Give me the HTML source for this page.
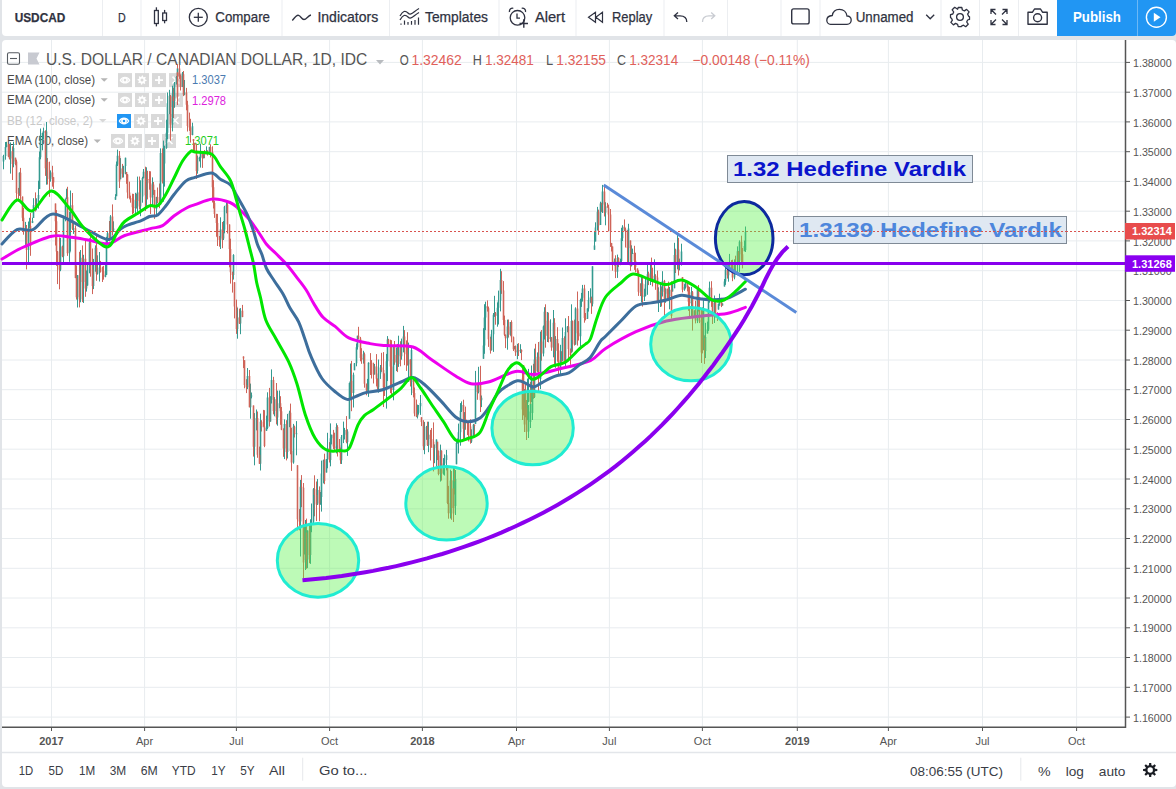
<!DOCTYPE html>
<html><head><meta charset="utf-8">
<style>
*{margin:0;padding:0;box-sizing:border-box}
html,body{width:1176px;height:789px;overflow:hidden;background:#e1e4e8;font-family:"Liberation Sans",sans-serif;color:#333}
.tb{position:absolute;left:2px;top:0;width:1174px;height:36px;background:#fff;border-radius:0 0 4px 4px}
.sep{position:absolute;top:0;width:1px;height:36px;background:#eceef0}
.t{position:absolute;white-space:nowrap;line-height:1}
.panel{position:absolute;left:2px;top:40px;width:1174px;height:747px;background:#fff;border-radius:4px}
svg{position:absolute;left:0;top:0}
.pub{position:absolute;left:1057px;top:0;width:119px;height:36px;background:#2196f3;border-radius:0 0 4px 0}
</style></head><body>
<div class="tb"></div>
<div class="panel"></div>
<div class="pub"></div>
<svg width="1176" height="789" viewBox="0 0 1176 789">
 <path d="M2 62.4H1125M2 92.2H1125M2 121.9H1125M2 151.7H1125M2 181.4H1125M2 211.2H1125M2 240.9H1125M2 270.7H1125M2 300.5H1125M2 330.2H1125M2 360.0H1125M2 389.7H1125M2 419.5H1125M2 449.2H1125M2 479.0H1125M2 508.8H1125M2 538.5H1125M2 568.3H1125M2 598.0H1125M2 627.8H1125M2 657.5H1125M2 687.3H1125M2 717.1H1125M51.5 40V727M144.6 40V727M236.4 40V727M329.6 40V727M422.4 40V727M516.5 40V727M609.4 40V727M702.4 40V727M797.3 40V727M888.4 40V727M982.5 40V727M1076.6 40V727" stroke="#e8ecef" stroke-width="1" fill="none"/>
 <line x1="2" y1="752.5" x2="1176" y2="752.5" stroke="#e3e6ea" stroke-width="1.5"/>

 <!-- legend -->
 <g fill="none" stroke="#555a60" stroke-width="1.1">
  <rect x="7.5" y="52.7" width="12" height="11.6" rx="1.5"/><line x1="10" y1="58.5" x2="17" y2="58.5"/>
 </g>
 <path d="M28,52.5 H39.5 L36.5,58.5 L39.5,64.5 H28Z" fill="#c8cad1"/>
 <text x="46" y="64.8" font-family="Liberation Sans" font-size="16" fill="#555" textLength="321.3" lengthAdjust="spacingAndGlyphs">U.S. DOLLAR / CANADIAN DOLLAR, 1D, IDC</text>
 <path d="M376,60 L384,60 L380,64.5Z" fill="#b8bbbf"/>
 <g font-family="Liberation Sans" font-size="14.5">
  <text x="399.8" y="64.8" fill="#555" textLength="9" lengthAdjust="spacingAndGlyphs">O</text>
  <text x="411.4" y="64.8" fill="#e0605a" textLength="50.4" lengthAdjust="spacingAndGlyphs">1.32462</text>
  <text x="472.7" y="64.8" fill="#555" textLength="9.1" lengthAdjust="spacingAndGlyphs">H</text>
  <text x="484.9" y="64.8" fill="#e0605a" textLength="49" lengthAdjust="spacingAndGlyphs">1.32481</text>
  <text x="546.1" y="64.8" fill="#555" textLength="7.2" lengthAdjust="spacingAndGlyphs">L</text>
  <text x="556.3" y="64.8" fill="#e0605a" textLength="49.6" lengthAdjust="spacingAndGlyphs">1.32155</text>
  <text x="616.9" y="64.8" fill="#555" textLength="9" lengthAdjust="spacingAndGlyphs">C</text>
  <text x="629.2" y="64.8" fill="#e0605a" textLength="49" lengthAdjust="spacingAndGlyphs">1.32314</text>
  <text x="692.4" y="64.8" fill="#e0605a" textLength="117.4" lengthAdjust="spacingAndGlyphs">−0.00148 (−0.11%)</text>
 </g>
 <g font-family="Liberation Sans" font-size="12.8">
  <text x="7" y="84.2" fill="#4a4a4a" textLength="88" lengthAdjust="spacingAndGlyphs">EMA (100, close)</text>
  <text x="7" y="104.3" fill="#4a4a4a" textLength="88" lengthAdjust="spacingAndGlyphs">EMA (200, close)</text>
  <text x="7" y="125" fill="#c9c9c9" textLength="86" lengthAdjust="spacingAndGlyphs">BB (12, close, 2)</text>
  <text x="7" y="145.4" fill="#4a4a4a" textLength="81" lengthAdjust="spacingAndGlyphs">EMA (50, close)</text>
  <text x="192" y="83.9" fill="#4a7ab0" textLength="34" lengthAdjust="spacingAndGlyphs">1.3037</text>
  <text x="192" y="104.6" fill="#dd22dd" textLength="34" lengthAdjust="spacingAndGlyphs">1.2978</text>
  <text x="185" y="145.4" fill="#22cc22" textLength="34" lengthAdjust="spacingAndGlyphs">1.3071</text>
 </g>
 <g fill="#b5b5b5">
  <path d="M100.6,78.3 H107.8 L104.2,81.8Z"/><path d="M100.6,98.3 H107.8 L104.2,101.8Z"/><path d="M99,119 H106.5 L102.8,122.5Z" fill="#d8d8d8"/><path d="M93.7,139.4 H100.9 L97.3,142.9Z"/>
 </g>
 <g fill="#d9d9d9">
  <rect x="118" y="73.1" width="14" height="14"/><rect x="135" y="73.1" width="14" height="14"/><rect x="152" y="73.1" width="14" height="14"/><rect x="169" y="73.1" width="14" height="14"/>
  <rect x="118" y="93" width="14" height="14"/><rect x="135" y="93" width="14" height="14"/><rect x="152" y="93" width="14" height="14"/><rect x="169" y="93" width="14" height="14"/>
  <rect x="117" y="114" width="14" height="14" fill="#2196f3"/><rect x="134" y="114" width="14" height="14"/><rect x="151" y="114" width="14" height="14"/><rect x="168" y="114" width="14" height="14"/>
  <rect x="111" y="134" width="14" height="14"/><rect x="128" y="134" width="14" height="14"/><rect x="145" y="134" width="14" height="14"/><rect x="162" y="134" width="14" height="14"/>
 </g>
 <g fill="none" stroke="#fff" stroke-width="1.5">
  <g id="eye"><path d="M120.3,80.1 C122.5,76.3 127.5,76.3 129.7,80.1 C127.5,83.9 122.5,83.9 120.3,80.1Z" stroke-width="1.2"/><circle cx="125" cy="80.1" r="2.1" stroke-width="1.6"/></g>
  <g transform="translate(0,19.9)"><path d="M120.3,80.1 C122.5,76.3 127.5,76.3 129.7,80.1 C127.5,83.9 122.5,83.9 120.3,80.1Z" stroke-width="1.2"/><circle cx="125" cy="80.1" r="2.1" stroke-width="1.6"/></g>
  <g transform="translate(-1,40.9)" stroke-width="1.7"><path d="M120.3,80.1 C122.5,76.3 127.5,76.3 129.7,80.1 C127.5,83.9 122.5,83.9 120.3,80.1Z" stroke-width="1.2"/><circle cx="125" cy="80.1" r="2.1" stroke-width="1.6"/></g>
  <g transform="translate(-7,60.9)"><path d="M120.3,80.1 C122.5,76.3 127.5,76.3 129.7,80.1 C127.5,83.9 122.5,83.9 120.3,80.1Z" stroke-width="1.2"/><circle cx="125" cy="80.1" r="2.1" stroke-width="1.6"/></g>
  <path d="M155,80.1 H163 M159,76.1 V84.1 M155,100 H163 M159,96 V104 M154,121 H162 M158,117 V125 M148,141 H156 M152,137 V145" stroke-width="1.8"/>
  <path d="M171.5,117 L178.5,124 M178.5,117 L171.5,124 M165.5,137 L172.5,144 M172.5,137 L165.5,144" stroke-width="1.6"/>
 </g>
 <g fill="#fff"><path d="M142.00,75.50 L142.90,75.59 L143.26,77.05 L143.83,77.36 L145.25,76.85 L145.82,77.54 L145.05,78.84 L145.24,79.46 L146.60,80.10 L146.51,81.00 L145.05,81.36 L144.74,81.93 L145.25,83.35 L144.56,83.92 L143.26,83.15 L142.64,83.34 L142.00,84.70 L141.10,84.61 L140.74,83.15 L140.17,82.84 L138.75,83.35 L138.18,82.66 L138.95,81.36 L138.76,80.74 L137.40,80.10 L137.49,79.20 L138.95,78.84 L139.26,78.27 L138.75,76.85 L139.44,76.28 L140.74,77.05 L141.36,76.86Z"/><path d="M142.00,95.40 L142.90,95.49 L143.26,96.95 L143.83,97.26 L145.25,96.75 L145.82,97.44 L145.05,98.74 L145.24,99.36 L146.60,100.00 L146.51,100.90 L145.05,101.26 L144.74,101.83 L145.25,103.25 L144.56,103.82 L143.26,103.05 L142.64,103.24 L142.00,104.60 L141.10,104.51 L140.74,103.05 L140.17,102.74 L138.75,103.25 L138.18,102.56 L138.95,101.26 L138.76,100.64 L137.40,100.00 L137.49,99.10 L138.95,98.74 L139.26,98.17 L138.75,96.75 L139.44,96.18 L140.74,96.95 L141.36,96.76Z"/><path d="M141.00,116.40 L141.90,116.49 L142.26,117.95 L142.83,118.26 L144.25,117.75 L144.82,118.44 L144.05,119.74 L144.24,120.36 L145.60,121.00 L145.51,121.90 L144.05,122.26 L143.74,122.83 L144.25,124.25 L143.56,124.82 L142.26,124.05 L141.64,124.24 L141.00,125.60 L140.10,125.51 L139.74,124.05 L139.17,123.74 L137.75,124.25 L137.18,123.56 L137.95,122.26 L137.76,121.64 L136.40,121.00 L136.49,120.10 L137.95,119.74 L138.26,119.17 L137.75,117.75 L138.44,117.18 L139.74,117.95 L140.36,117.76Z"/><path d="M135.00,136.40 L135.90,136.49 L136.26,137.95 L136.83,138.26 L138.25,137.75 L138.82,138.44 L138.05,139.74 L138.24,140.36 L139.60,141.00 L139.51,141.90 L138.05,142.26 L137.74,142.83 L138.25,144.25 L137.56,144.82 L136.26,144.05 L135.64,144.24 L135.00,145.60 L134.10,145.51 L133.74,144.05 L133.17,143.74 L131.75,144.25 L131.18,143.56 L131.95,142.26 L131.76,141.64 L130.40,141.00 L130.49,140.10 L131.95,139.74 L132.26,139.17 L131.75,137.75 L132.44,137.18 L133.74,137.95 L134.36,137.76Z"/></g>
 <g fill="#d9d9d9"><circle cx="142" cy="80.1" r="1.5"/><circle cx="142" cy="100" r="1.5"/><circle cx="141" cy="121" r="1.5"/><circle cx="135" cy="141" r="1.5"/></g>
 <path d="M172.5,76.6 L179.5,83.6 M179.5,76.6 L172.5,83.6 M172.5,96.5 L179.5,103.5 M179.5,96.5 L172.5,103.5" stroke="#fff" stroke-width="1.6"/>

 <g stroke-width="1" fill="none">
  <path d="M3.5 154.8V169.3M5.5 142.0V159.7M6.5 141.8V147.3M10.5 142.4V173.6M13.5 141.7V167.3M19.5 172.4V195.8M25.5 221.9V245.8M28.5 221.5V264.2M29.5 217.8V228.3M32.5 217.7V223.1M33.5 198.2V218.0M36.5 198.4V210.4M38.5 180.7V208.7M39.5 151.5V188.9M40.5 128.5V159.3M42.5 132.6V150.3M43.5 127.6V139.5M46.5 143.9V184.7M50.5 170.4V181.7M60.5 237.9V271.2M63.5 215.6V264.1M65.5 198.7V221.3M66.5 188.7V199.0M69.5 211.9V261.8M70.5 190.5V251.6M73.5 220.9V233.9M77.5 275.1V307.5M80.5 250.0V302.3M83.5 254.8V303.0M86.5 270.6V291.6M87.5 264.0V285.7M89.5 238.4V273.3M93.5 258.9V289.1M95.5 245.4V271.7M97.5 255.3V274.6M99.5 252.0V281.5M105.5 262.9V277.3M106.5 236.8V275.0M107.5 231.6V243.7M110.5 215.1V238.4M113.5 221.3V232.0M115.5 194.2V199.7M116.5 161.5V196.3M117.5 149.6V166.0M120.5 158.1V179.2M123.5 165.8V177.5M125.5 157.7V174.2M135.5 192.8V215.2M137.5 176.6V211.9M140.5 180.3V216.2M142.5 176.8V202.7M143.5 169.0V178.5M146.5 167.3V205.9M152.5 177.4V206.4M156.5 196.8V214.0M160.5 148.4V205.0M163.5 140.6V201.7M164.5 145.7V186.6M166.5 119.7V148.8M167.5 92.5V139.4M169.5 89.8V114.2M172.5 85.7V131.4M174.5 82.0V107.8M176.5 76.0V84.5M177.5 66.6V80.2M182.5 72.0V87.0M184.5 80.0V95.3M192.5 122.7V135.3M197.5 155.6V173.7M199.5 156.7V161.4M200.5 143.7V167.6M203.5 151.1V158.2M206.5 146.4V154.2M209.5 146.8V154.8M220.5 217.3V249.0M223.5 221.0V240.0M224.5 205.8V233.3M226.5 200.0V213.3M233.5 254.2V279.6M237.5 307.6V338.7M240.5 308.1V334.2M247.5 368.0V389.1M250.5 383.6V418.7M251.5 392.5V398.4M254.5 413.1V465.3M256.5 409.5V430.4M260.5 413.6V470.5M266.5 415.6V430.8M267.5 392.3V429.1M270.5 396.2V421.7M271.5 369.4V403.5M274.5 397.1V416.3M277.5 390.6V425.7M279.5 390.5V408.2M284.5 419.4V459.1M287.5 413.9V458.5M289.5 410.7V427.2M293.5 423.9V463.7M296.5 421.1V455.3M300.5 479.9V556.5M304.5 526.6V554.5M307.5 530.4V568.1M310.5 519.3V563.9M311.5 503.5V532.2M313.5 488.1V523.7M317.5 479.0V504.9M320.5 492.0V504.8M321.5 460.6V511.6M323.5 459.6V483.4M326.5 459.1V472.5M327.5 432.8V468.3M330.5 423.4V466.3M331.5 434.7V444.4M336.5 423.3V453.4M341.5 435.0V464.0M343.5 421.6V443.1M344.5 427.9V439.5M347.5 429.3V455.9M349.5 382.5V418.8M350.5 363.5V399.9M353.5 372.6V407.5M354.5 363.0V370.2M356.5 343.5V366.3M357.5 335.8V349.6M363.5 350.8V363.6M367.5 378.9V390.8M368.5 362.3V396.9M374.5 363.9V374.4M378.5 359.5V392.7M380.5 365.0V378.9M386.5 353.9V408.6M387.5 336.1V381.1M393.5 345.1V400.3M396.5 347.4V371.1M398.5 335.7V366.9M401.5 338.6V359.7M403.5 325.9V352.4M408.5 342.6V381.9M411.5 347.5V395.1M417.5 404.6V418.5M418.5 405.0V414.6M420.5 395.0V414.9M424.5 421.9V454.2M426.5 425.9V439.8M428.5 421.7V452.2M434.5 444.4V463.2M436.5 439.5V466.6M440.5 444.6V481.6M443.5 458.1V474.7M444.5 454.4V475.6M446.5 449.9V470.4M450.5 469.7V518.5M453.5 467.4V510.5M456.5 441.1V464.2M457.5 438.4V443.7M458.5 423.6V453.5M460.5 403.1V445.7M461.5 401.4V412.0M464.5 412.1V439.1M471.5 429.3V442.9M473.5 423.9V437.4M475.5 370.9V424.0M478.5 366.8V393.4M481.5 395.5V407.1M483.5 328.2V358.7M484.5 304.2V353.8M485.5 301.7V330.1M491.5 329.8V350.5M493.5 313.0V351.9M494.5 295.8V316.8M497.5 302.4V326.7M498.5 290.6V324.5M500.5 268.8V311.4M507.5 319.6V349.7M510.5 322.0V335.8M514.5 346.1V349.2M517.5 343.8V359.2M520.5 344.2V353.1M524.5 389.1V421.8M527.5 378.6V420.2M528.5 368.9V402.0M531.5 365.5V401.9M534.5 348.6V398.0M537.5 352.4V371.9M540.5 331.6V389.1M543.5 325.5V356.4M544.5 307.2V339.5M547.5 312.0V342.0M550.5 319.3V341.7M553.5 310.0V357.3M555.5 336.1V367.8M560.5 344.8V375.0M562.5 327.5V361.3M565.5 318.3V368.2M567.5 326.2V332.3M571.5 304.3V352.6M575.5 307.3V344.7M580.5 298.9V346.4M581.5 292.9V306.9M582.5 284.9V301.6M587.5 308.3V318.9M588.5 291.0V311.6M590.5 288.3V302.8M592.5 266.3V306.4M594.5 232.0V249.7M595.5 222.3V241.4M597.5 206.9V230.5M600.5 201.7V225.0M602.5 184.9V213.0M605.5 202.2V225.3M614.5 258.5V265.6M617.5 254.6V277.9M620.5 258.7V265.2M621.5 228.0V264.9M622.5 225.2V241.0M628.5 223.8V264.5M631.5 245.3V266.5M632.5 248.6V253.9M641.5 275.7V302.4M644.5 288.7V301.0M645.5 277.1V296.4M647.5 262.4V294.8M650.5 264.1V285.0M654.5 259.3V281.6M658.5 287.3V312.0M660.5 282.4V307.0M662.5 271.2V296.5M665.5 288.4V302.8M669.5 286.9V309.3M672.5 283.6V291.5M674.5 242.8V288.2M677.5 235.0V269.4M679.5 258.6V270.4M681.5 243.7V265.6M684.5 284.1V290.8M685.5 281.9V288.6M691.5 286.8V317.9M694.5 310.3V317.4M697.5 288.1V323.1M705.5 322.8V358.1M707.5 321.6V333.5M708.5 300.0V331.0M709.5 281.6V302.7M714.5 295.5V323.0M718.5 303.7V309.6M719.5 293.7V305.8M722.5 303.4V305.5M724.5 279.0V286.5M725.5 265.9V284.9M728.5 262.1V281.7M729.5 253.9V270.1M734.5 259.4V279.3M737.5 246.4V274.7M739.5 240.4V271.9M744.5 240.6V251.2M745.5 241.8V250.0M745.5 226.5V252M528.5 405.0V438.0M530.5 398.0V428.0M532.5 385.0V420.0M305.5 520.0V570.0M455.5 470.0V515.0M703.5 300.0V350.0M46.5 122.0V170.0" stroke="#349a90"/>
  <path d="M8.5 144.2V157.1M9.5 143.8V159.5M12.5 146.3V180.0M15.5 157.7V165.3M16.5 159.6V201.7M18.5 187.9V201.7M20.5 167.9V199.9M22.5 196.6V221.1M23.5 207.9V234.7M26.5 225.0V269.4M30.5 213.0V255.8M35.5 192.4V211.5M45.5 130.3V175.9M47.5 158.0V184.5M49.5 161.7V196.8M52.5 165.8V186.7M53.5 177.2V188.9M55.5 203.6V245.5M56.5 210.0V265.8M57.5 251.0V284.1M59.5 237.4V289.3M62.5 245.6V257.2M67.5 186.8V255.9M72.5 193.0V230.0M75.5 225.5V278.2M76.5 265.4V299.6M79.5 251.8V307.4M82.5 245.4V302.1M85.5 240.5V296.8M90.5 234.0V276.7M92.5 248.5V294.1M96.5 234.0V280.8M100.5 260.9V272.6M102.5 266.6V282.0M103.5 265.9V279.7M109.5 221.0V241.4M112.5 204.4V235.5M119.5 151.0V188.0M122.5 163.9V177.7M126.5 171.9V183.8M127.5 174.1V198.5M129.5 181.7V198.8M130.5 195.6V202.7M132.5 193.7V214.3M133.5 193.9V213.3M136.5 193.7V208.6M139.5 176.5V209.5M145.5 166.7V211.0M147.5 170.8V199.4M149.5 171.1V189.7M150.5 171.3V214.1M153.5 182.0V194.9M154.5 189.9V218.9M157.5 187.5V203.1M159.5 183.5V208.2M162.5 148.3V183.5M170.5 95.0V140.5M173.5 87.7V118.0M179.5 64.8V78.9M180.5 74.4V90.5M183.5 71.0V96.1M186.5 87.9V110.3M187.5 100.8V131.5M189.5 112.6V130.9M190.5 118.8V142.6M193.5 139.1V150.3M194.5 142.9V151.0M196.5 143.7V179.0M202.5 151.1V167.9M204.5 150.0V158.2M207.5 150.3V155.6M210.5 144.3V157.4M212.5 146.3V202.3M213.5 180.2V208.5M214.5 200.9V217.9M216.5 213.8V236.7M217.5 213.9V246.0M219.5 236.0V246.7M222.5 222.0V248.2M227.5 202.3V233.5M229.5 224.4V267.3M230.5 238.7V283.6M232.5 271.6V292.6M234.5 282.3V318.4M236.5 299.6V333.9M239.5 308.6V324.0M242.5 304.9V317.2M243.5 356.4V368.1M244.5 360.3V388.3M246.5 379.2V393.1M249.5 370.0V407.3M253.5 405.5V456.6M257.5 411.5V457.8M259.5 446.6V464.0M261.5 420.2V431.5M263.5 409.9V426.6M264.5 410.2V447.2M269.5 387.9V426.5M273.5 376.8V414.4M276.5 383.0V424.4M280.5 396.2V424.8M281.5 407.0V430.2M283.5 428.3V456.8M286.5 420.2V460.4M290.5 403.6V454.3M291.5 427.8V470.9M294.5 425.6V437.5M297.5 465.2V530.4M299.5 509.1V530.3M301.5 475.1V507.2M303.5 483.0V554.1M306.5 518.6V568.8M309.5 524.4V563.2M314.5 475.3V516.3M316.5 481.5V521.1M319.5 486.4V521.3M324.5 453.7V484.2M329.5 442.1V462.5M333.5 429.9V449.0M334.5 432.7V450.7M337.5 425.2V456.5M339.5 439.0V452.8M340.5 447.6V463.9M346.5 416.1V443.3M351.5 360.9V411.2M358.5 326.8V339.3M360.5 336.9V361.3M361.5 348.2V363.8M364.5 352.5V387.7M366.5 383.6V395.3M370.5 353.1V375.0M371.5 360.1V378.5M373.5 362.7V383.5M376.5 354.1V386.3M377.5 378.5V389.5M381.5 352.8V371.9M383.5 352.1V407.0M384.5 373.3V396.0M388.5 338.8V346.4M390.5 339.7V393.1M391.5 340.2V394.6M394.5 341.0V364.8M397.5 343.9V372.1M400.5 341.2V366.3M404.5 330.1V365.2M406.5 340.4V370.9M407.5 332.2V365.6M410.5 359.1V386.5M413.5 377.2V397.4M414.5 387.5V416.3M416.5 399.5V417.2M421.5 417.2V426.1M423.5 420.2V450.1M427.5 421.7V446.0M430.5 429.9V460.5M431.5 428.0V447.8M433.5 422.4V471.4M437.5 441.8V460.1M438.5 450.4V475.3M441.5 450.3V480.6M447.5 467.0V504.1M448.5 485.9V518.7M451.5 471.0V519.8M454.5 466.4V494.5M463.5 399.7V439.8M465.5 406.6V429.8M467.5 422.2V435.1M468.5 420.6V441.4M470.5 419.3V443.7M474.5 424.5V435.9M477.5 383.3V399.8M480.5 365.8V412.0M487.5 300.4V311.6M488.5 306.7V346.9M490.5 336.7V353.6M495.5 312.0V324.7M501.5 271.2V293.9M503.5 281.1V325.2M504.5 315.6V336.1M505.5 334.5V348.1M508.5 319.5V337.5M511.5 320.3V342.3M513.5 336.5V351.0M515.5 345.5V355.9M518.5 343.1V356.0M521.5 349.3V360.1M523.5 365.0V415.4M525.5 383.0V417.3M530.5 382.0V405.7M533.5 363.8V398.8M535.5 343.8V373.6M538.5 342.0V391.0M541.5 330.0V360.7M545.5 304.3V347.7M548.5 312.6V342.4M551.5 337.1V350.8M554.5 318.2V367.1M557.5 327.2V361.7M558.5 343.3V374.2M561.5 351.2V364.8M564.5 336.3V363.5M568.5 316.0V361.4M570.5 348.5V364.8M572.5 320.5V351.7M574.5 319.6V345.6M577.5 291.5V345.6M578.5 321.1V340.5M584.5 284.8V322.7M585.5 313.0V320.4M591.5 296.6V313.9M598.5 209.6V234.9M601.5 202.7V211.9M604.5 186.6V216.5M607.5 202.9V207.6M608.5 204.6V231.4M610.5 209.0V246.9M611.5 242.9V251.5M612.5 246.5V270.7M615.5 255.3V278.1M618.5 257.3V267.1M624.5 219.4V231.2M625.5 227.7V247.5M627.5 230.1V264.2M630.5 240.5V270.8M634.5 245.8V269.9M635.5 252.7V272.3M637.5 268.4V276.1M638.5 270.3V295.9M640.5 283.3V296.1M642.5 275.8V306.6M648.5 271.6V285.1M651.5 257.6V282.0M652.5 267.7V286.4M655.5 274.2V289.8M657.5 270.6V303.1M661.5 286.4V306.5M664.5 279.9V315.5M667.5 288.7V299.9M668.5 281.6V301.1M671.5 281.3V318.6M675.5 248.7V273.0M678.5 237.9V275.5M682.5 277.0V292.4M687.5 282.3V291.4M688.5 286.2V310.8M689.5 287.0V316.4M692.5 291.0V330.6M695.5 300.7V323.4M698.5 285.1V311.5M699.5 297.2V323.1M701.5 312.2V332.0M702.5 307.3V353.4M704.5 335.3V363.9M711.5 281.2V306.9M712.5 299.6V324.0M715.5 298.6V317.5M717.5 312.3V321.0M721.5 297.9V307.1M727.5 268.4V278.6M731.5 260.1V270.0M732.5 259.7V281.2M735.5 255.7V273.2M738.5 251.0V263.1M741.5 235.7V263.5M742.5 248.0V268.4M522.5 368.0V420.0M524.5 395.0V432.0M526.5 400.0V440.0M303.5 500.0V578.0M453.5 480.0V522.0M701.5 310.0V363.0M177.5 64.0V105.0" stroke="#cf6459"/>
  <path d="M3.5 156.0V161.5M5.5 147.1V156.0M6.5 144.7V147.1M10.5 151.3V158.4M13.5 147.9V164.0M19.5 172.8V193.5M25.5 228.9V232.1M28.5 228.0V250.1M29.5 226.0V228.0M32.5 221.0V223.1M33.5 205.3V218.0M36.5 198.8V206.3M38.5 195.0V198.8M39.5 157.3V188.9M40.5 135.3V157.3M42.5 133.1V135.3M43.5 131.1V133.1M46.5 161.9V168.3M50.5 172.4V178.9M60.5 246.4V269.7M63.5 218.6V256.3M65.5 198.7V218.6M66.5 197.3V198.7M69.5 220.0V253.2M70.5 205.3V220.0M73.5 228.2V229.2M77.5 275.3V297.2M80.5 257.7V299.5M83.5 258.7V282.0M86.5 285.5V288.4M87.5 269.7V285.5M89.5 242.5V269.7M93.5 261.8V286.1M95.5 247.7V261.8M97.5 268.6V273.8M99.5 267.6V268.6M105.5 274.8V276.8M106.5 238.4V274.8M107.5 233.3V238.4M110.5 216.6V238.4M113.5 228.5V230.3M115.5 196.9V199.7M116.5 164.6V196.3M117.5 155.8V164.6M120.5 168.4V179.2M123.5 165.9V173.8M125.5 157.8V165.9M135.5 199.8V208.1M137.5 192.6V201.0M140.5 196.6V206.5M142.5 177.9V196.6M143.5 171.8V177.9M146.5 179.1V195.3M152.5 184.6V197.4M156.5 196.9V208.7M160.5 153.1V204.6M163.5 163.6V181.6M164.5 147.9V163.6M166.5 132.7V147.9M167.5 103.2V132.7M169.5 95.8V103.2M172.5 96.4V124.6M174.5 83.1V101.0M176.5 76.9V83.1M177.5 68.5V76.9M182.5 74.3V87.0M184.5 92.5V94.6M192.5 126.2V135.0M197.5 157.7V171.0M199.5 157.6V158.6M200.5 152.7V157.6M203.5 153.7V158.2M206.5 150.8V154.2M209.5 146.9V152.2M220.5 229.6V239.9M223.5 229.6V238.4M224.5 206.8V229.6M226.5 204.7V206.8M233.5 255.1V275.1M237.5 317.5V329.0M240.5 310.8V323.4M247.5 376.1V387.2M250.5 396.2V407.3M251.5 395.4V396.4M254.5 421.9V446.7M256.5 418.1V421.9M260.5 421.8V463.8M266.5 428.0V430.8M267.5 397.6V428.0M270.5 399.8V421.4M271.5 379.9V399.8M274.5 399.3V411.0M277.5 407.8V417.5M279.5 403.2V407.8M284.5 424.0V448.5M287.5 424.3V451.9M289.5 412.8V424.3M293.5 426.7V462.6M296.5 433.3V434.3M300.5 486.8V521.5M304.5 532.4V547.8M307.5 530.5V559.6M310.5 524.2V555.1M311.5 521.7V524.2M313.5 489.3V521.7M317.5 490.0V504.5M320.5 497.0V503.2M321.5 473.5V497.0M323.5 460.3V473.5M326.5 459.1V472.5M327.5 448.2V459.1M330.5 438.2V460.1M331.5 434.8V438.2M336.5 427.0V448.5M341.5 437.1V460.3M343.5 434.7V437.1M344.5 430.1V434.7M347.5 431.4V442.1M349.5 382.9V418.8M350.5 380.9V382.9M353.5 374.8V393.0M354.5 363.2V370.2M356.5 347.2V363.2M357.5 335.8V347.2M363.5 354.2V359.6M367.5 389.5V390.6M368.5 362.7V389.5M374.5 366.5V374.4M378.5 373.6V387.4M380.5 367.6V373.6M386.5 361.3V389.6M387.5 339.6V361.3M393.5 346.3V389.9M396.5 355.1V362.5M398.5 345.3V363.9M401.5 342.0V356.3M403.5 336.6V342.0M408.5 359.5V364.4M411.5 350.0V382.1M417.5 412.7V416.4M418.5 406.2V412.7M420.5 402.9V406.2M424.5 434.6V446.3M426.5 426.8V434.6M428.5 434.8V445.2M434.5 447.2V448.2M436.5 439.5V447.2M440.5 450.8V474.0M443.5 463.5V473.6M444.5 460.1V463.5M446.5 455.3V460.1M450.5 480.6V513.3M453.5 480.2V508.1M456.5 442.9V464.2M457.5 442.1V443.1M458.5 432.3V442.1M460.5 410.7V432.3M461.5 405.0V410.7M464.5 418.9V428.7M471.5 430.4V441.5M473.5 424.8V430.4M475.5 383.7V424.0M478.5 384.7V391.9M481.5 397.8V400.3M483.5 345.4V358.7M484.5 317.5V345.4M485.5 306.3V317.5M491.5 334.2V350.3M493.5 314.8V334.2M494.5 313.2V314.8M497.5 307.7V315.8M498.5 300.6V307.7M500.5 279.9V300.6M507.5 326.4V338.2M510.5 322.1V334.8M514.5 346.2V349.2M517.5 350.6V352.3M520.5 350.0V351.0M524.5 389.2V408.4M527.5 401.6V403.5M528.5 389.7V401.6M531.5 376.0V401.8M534.5 359.6V396.9M537.5 356.7V371.5M540.5 341.4V379.0M543.5 326.6V353.6M544.5 311.7V326.6M547.5 320.7V335.7M550.5 337.2V339.1M553.5 322.7V347.5M555.5 339.1V351.0M560.5 360.5V368.5M562.5 337.9V360.6M565.5 332.0V363.3M567.5 326.4V332.0M571.5 321.1V352.6M575.5 308.5V344.4M580.5 300.0V336.2M581.5 297.7V300.0M582.5 288.4V297.7M587.5 308.4V318.7M588.5 300.0V308.4M590.5 297.6V300.0M592.5 266.3V303.7M594.5 245.5V249.7M595.5 227.4V241.4M597.5 211.7V227.4M600.5 203.5V225.0M602.5 191.4V204.5M605.5 206.5V212.8M614.5 260.8V264.7M617.5 258.0V271.8M620.5 261.1V263.3M621.5 238.2V261.1M622.5 226.7V238.2M628.5 228.6V248.1M631.5 253.7V265.7M632.5 253.0V254.0M641.5 283.6V292.1M644.5 295.8V296.8M645.5 284.2V295.8M647.5 274.3V284.2M650.5 273.3V279.6M654.5 275.8V281.3M658.5 294.5V302.3M660.5 291.4V294.5M662.5 281.0V291.7M665.5 288.8V299.7M669.5 289.7V296.1M672.5 288.6V291.5M674.5 254.9V288.2M677.5 249.5V265.1M679.5 261.8V263.4M681.5 251.6V261.8M684.5 287.0V289.8M685.5 283.1V287.0M691.5 292.3V303.2M694.5 310.4V317.4M697.5 289.4V320.6M705.5 337.1V350.9M707.5 329.6V333.5M708.5 301.3V329.6M709.5 287.7V301.3M714.5 302.7V314.2M718.5 303.8V309.6M719.5 301.5V303.8M722.5 303.5V305.5M724.5 281.5V286.5M725.5 269.7V281.5M728.5 266.9V275.2M729.5 262.0V266.9M734.5 261.9V277.5M737.5 251.2V265.1M739.5 241.8V260.7M744.5 246.1V251.2M745.5 243.0V246.1M745.5 232V250M528.5 411.6V431.4M530.5 404.0V422.0M532.5 392.0V413.0M305.5 530.0V560.0M455.5 479.0V506.0M703.5 310.0V340.0M46.5 131.6V160.4" stroke="#349a90" stroke-width="1.6"/>
  <path d="M8.5 144.7V156.4M9.5 156.4V158.4M12.5 151.3V164.0M15.5 157.7V161.5M16.5 161.5V192.9M18.5 192.9V193.9M20.5 172.8V196.0M22.5 196.6V217.8M23.5 217.8V232.1M26.5 228.9V250.1M30.5 226.0V246.1M35.5 205.3V206.3M45.5 131.1V168.3M47.5 161.9V177.8M49.5 177.8V178.9M52.5 172.4V177.2M53.5 177.2V182.6M55.5 203.6V221.2M56.5 221.2V251.6M57.5 251.6V260.5M59.5 260.5V269.7M62.5 246.4V256.3M67.5 197.3V253.2M72.5 205.3V228.7M75.5 228.2V278.0M76.5 278.0V297.2M79.5 275.3V299.5M82.5 257.7V282.0M85.5 258.7V288.4M90.5 242.5V269.2M92.5 269.2V286.1M96.5 247.7V273.8M100.5 267.6V270.8M102.5 270.8V271.8M103.5 271.3V276.8M109.5 233.3V238.4M112.5 216.6V230.3M119.5 155.8V181.4M122.5 168.4V173.8M126.5 171.9V174.6M127.5 174.6V192.4M129.5 192.4V198.0M130.5 198.0V199.9M132.5 199.9V207.2M133.5 207.2V208.2M136.5 199.8V201.0M139.5 192.6V206.5M145.5 171.8V195.3M147.5 179.1V180.1M149.5 179.3V183.3M150.5 183.3V197.4M153.5 184.6V190.0M154.5 190.0V208.7M157.5 196.9V202.4M159.5 202.4V204.6M162.5 153.1V181.6M170.5 95.8V124.6M173.5 96.4V101.0M179.5 68.5V75.9M180.5 75.9V87.0M183.5 74.3V94.6M186.5 92.5V104.8M187.5 104.8V125.9M189.5 125.9V127.5M190.5 127.5V135.0M193.5 139.1V141.0M194.5 142.9V150.5M196.5 150.5V171.0M202.5 152.7V158.2M204.5 153.7V154.7M207.5 150.8V152.2M210.5 146.9V151.7M212.5 151.7V187.2M213.5 187.2V202.9M214.5 202.9V214.1M216.5 214.1V223.0M217.5 223.0V237.3M219.5 237.3V239.9M222.5 229.6V238.4M227.5 204.7V224.4M229.5 224.4V249.1M230.5 249.1V272.3M232.5 272.3V275.1M234.5 282.3V306.4M236.5 306.4V329.0M239.5 317.5V323.4M242.5 310.8V317.1M243.5 356.4V358.6M244.5 360.3V385.1M246.5 385.1V387.2M249.5 376.1V407.3M253.5 405.5V446.7M257.5 418.1V454.7M259.5 454.7V463.8M261.5 421.8V426.3M263.5 426.3V427.3M264.5 426.6V445.9M269.5 397.6V421.4M273.5 379.9V411.0M276.5 399.3V417.5M280.5 403.2V411.3M281.5 411.3V429.8M283.5 429.8V448.5M286.5 424.0V451.9M290.5 412.8V451.1M291.5 451.1V462.6M294.5 426.7V433.7M297.5 465.2V519.2M299.5 519.2V521.5M301.5 486.8V487.8M303.5 487.7V547.8M306.5 532.4V559.6M309.5 530.5V555.1M314.5 489.3V494.9M316.5 494.9V504.5M319.5 490.0V503.2M324.5 460.3V481.0M329.5 448.2V460.1M333.5 434.8V446.4M334.5 446.4V448.5M337.5 427.0V445.2M339.5 445.2V450.8M340.5 450.8V460.3M346.5 430.1V442.1M351.5 380.9V393.0M358.5 335.8V338.5M360.5 338.5V358.1M361.5 358.1V359.6M364.5 354.2V383.7M366.5 383.7V390.6M370.5 362.7V363.7M371.5 362.7V365.2M373.5 365.2V374.4M376.5 366.5V378.7M377.5 378.7V387.4M381.5 367.6V370.1M383.5 370.1V387.6M384.5 387.6V389.6M388.5 339.6V346.1M390.5 346.1V366.4M391.5 366.4V389.9M394.5 346.3V362.5M397.5 355.1V363.9M400.5 345.3V356.3M404.5 336.6V343.7M406.5 343.7V354.2M407.5 354.2V364.4M410.5 359.5V382.1M413.5 377.2V393.0M414.5 393.0V413.6M416.5 413.6V416.4M421.5 417.2V422.1M423.5 422.1V446.3M427.5 426.8V445.2M430.5 434.8V439.1M431.5 439.1V441.7M433.5 441.7V448.1M437.5 441.8V455.5M438.5 455.5V474.0M441.5 450.8V473.6M447.5 467.0V503.0M448.5 503.0V513.3M451.5 480.6V508.1M454.5 480.2V481.2M463.5 405.0V428.7M465.5 418.9V422.4M467.5 422.4V423.8M468.5 423.8V426.6M470.5 426.6V441.5M474.5 424.8V425.8M477.5 383.7V391.9M480.5 384.7V400.3M487.5 306.3V308.2M488.5 308.2V339.2M490.5 339.2V350.3M495.5 313.2V315.8M501.5 279.9V290.5M503.5 290.5V320.1M504.5 320.1V334.7M505.5 334.7V338.2M508.5 326.4V334.8M511.5 322.1V337.3M513.5 337.3V349.2M515.5 346.2V352.3M518.5 350.6V351.6M521.5 350.0V351.7M523.5 365.0V408.4M525.5 389.2V403.5M530.5 389.7V401.8M533.5 376.0V396.9M535.5 359.6V371.5M538.5 356.7V379.0M541.5 341.4V353.6M545.5 311.7V335.7M548.5 320.7V339.1M551.5 337.2V347.5M554.5 322.7V351.0M557.5 339.1V350.4M558.5 350.4V368.5M561.5 360.5V361.5M564.5 337.9V363.3M568.5 326.4V349.1M570.5 349.1V354.9M572.5 321.1V340.1M574.5 340.1V344.4M577.5 308.5V333.3M578.5 333.3V336.2M584.5 288.4V318.1M585.5 318.1V319.1M591.5 297.6V303.7M598.5 211.7V225.6M601.5 203.5V204.5M604.5 191.4V212.8M607.5 206.5V207.5M608.5 207.4V214.4M610.5 214.4V230.9M611.5 242.9V246.6M612.5 246.6V264.7M615.5 260.8V271.8M618.5 258.0V263.3M624.5 226.7V229.6M625.5 229.6V231.0M627.5 231.0V248.1M630.5 240.5V265.7M634.5 253.0V260.7M635.5 260.7V266.9M637.5 268.4V272.2M638.5 272.2V291.7M640.5 291.7V292.7M642.5 283.6V296.5M648.5 274.3V279.6M651.5 273.3V280.1M652.5 280.1V281.3M655.5 275.8V277.5M657.5 277.5V302.3M661.5 291.4V292.4M664.5 281.0V299.7M667.5 288.8V293.7M668.5 293.7V296.1M671.5 289.7V315.9M675.5 254.9V265.1M678.5 249.5V263.4M682.5 277.0V289.8M687.5 283.1V287.7M688.5 287.7V301.8M689.5 301.8V303.2M692.5 292.3V317.4M695.5 310.4V320.6M698.5 289.4V310.0M699.5 310.0V321.4M701.5 321.4V325.5M702.5 325.5V337.9M704.5 337.9V350.9M711.5 287.7V299.6M712.5 299.6V314.2M715.5 302.7V312.8M717.5 312.8V318.1M721.5 301.5V305.7M727.5 269.7V275.2M731.5 262.0V265.7M732.5 265.7V277.5M735.5 261.9V265.1M738.5 251.2V260.7M741.5 241.8V254.3M742.5 254.3V263.1M522.5 378.4V409.6M524.5 402.4V424.6M526.5 408.0V432.0M303.5 515.6V562.4M453.5 488.4V513.6M701.5 320.6V352.4M177.5 72.2V96.8" stroke="#cf6459" stroke-width="1.6"/>
 </g>
 <g fill="none" stroke-width="3" stroke-linejoin="round" stroke-linecap="round">
  <path d="M2.0,259.0 C5.2,257.2 13.2,251.8 21.5,248.0 C29.8,244.2 43.5,238.0 51.7,236.2 C60.0,234.4 65.0,236.7 71.0,237.3 C77.0,237.9 81.8,238.9 88.0,240.0 C94.2,241.1 102.1,244.4 108.2,243.7 C114.3,242.9 117.8,238.0 124.7,235.5 C131.6,233.0 143.1,230.6 149.4,228.9 C155.7,227.2 158.5,227.8 162.6,225.6 C166.7,223.4 170.1,218.7 174.2,215.7 C178.3,212.7 183.9,209.3 187.4,207.5 C190.9,205.7 190.8,206.1 195.0,204.7 C199.2,203.3 207.0,199.4 212.8,199.0 C218.6,198.6 225.6,200.8 230.0,202.5 C234.4,204.2 236.0,206.5 239.1,209.1 C242.2,211.7 245.2,214.7 248.3,218.3 C251.4,221.9 254.4,226.2 257.4,230.5 C260.4,234.8 263.4,240.4 266.5,244.2 C269.6,248.0 272.4,250.0 275.7,253.3 C279.0,256.6 282.7,259.9 286.3,264.0 C289.9,268.1 293.8,273.5 297.1,277.8 C300.4,282.1 303.4,285.7 306.2,290.0 C309.0,294.3 311.0,299.1 313.8,303.6 C316.6,308.2 319.4,313.5 323.0,317.3 C326.6,321.1 330.8,323.0 335.1,326.4 C339.4,329.8 343.0,334.9 348.8,337.8 C354.6,340.7 363.9,342.3 370.0,343.6 C376.1,344.9 378.4,345.0 385.6,345.6 C392.8,346.2 405.4,344.7 413.0,347.0 C420.6,349.3 423.9,354.5 431.0,359.3 C438.1,364.1 448.9,371.9 455.6,376.0 C462.3,380.1 465.6,382.7 471.0,383.7 C476.4,384.7 480.9,384.0 488.3,382.0 C495.7,380.0 508.0,372.8 515.6,371.5 C523.2,370.2 526.4,375.0 534.0,374.5 C541.6,374.0 551.6,370.8 561.0,368.5 C570.4,366.2 583.0,364.0 590.4,360.6 C597.8,357.2 598.0,353.2 605.6,348.4 C613.2,343.6 625.9,336.3 636.0,331.7 C646.1,327.1 656.3,323.5 666.4,321.0 C676.5,318.5 686.7,317.8 696.8,316.5 C706.9,315.2 718.9,315.0 727.0,313.5 C735.1,312.0 742.3,308.4 745.4,307.4" stroke="#ee00ee"/>
  <path d="M2.0,244.0 C4.5,241.6 11.8,232.0 17.0,229.6 C22.2,227.2 27.0,232.2 33.0,229.6 C39.0,227.0 44.5,214.3 53.0,214.0 C61.5,213.7 74.8,223.7 84.0,228.0 C93.2,232.3 102.2,239.3 108.2,239.6 C114.2,239.9 116.8,232.0 119.8,229.7 C122.8,227.4 122.8,227.1 126.4,225.6 C130.0,224.1 137.4,222.2 141.2,220.7 C145.0,219.2 146.7,217.5 149.4,216.5 C152.2,215.5 154.9,216.7 157.7,214.9 C160.4,213.1 163.2,209.2 165.9,205.8 C168.7,202.4 170.9,198.4 174.2,194.3 C177.5,190.2 182.2,183.9 185.7,181.1 C189.2,178.3 190.7,178.8 195.0,177.4 C199.3,176.1 207.3,172.7 211.5,173.0 C215.7,173.3 217.2,177.3 220.4,179.3 C223.6,181.3 227.8,182.2 230.5,185.0 C233.2,187.8 234.1,191.0 236.8,195.8 C239.5,200.6 244.1,208.2 246.8,213.7 C249.5,219.2 251.0,223.9 252.8,229.0 C254.6,234.1 255.9,239.9 257.4,244.2 C258.9,248.5 260.5,250.8 262.0,254.8 C263.5,258.9 264.5,264.2 266.5,268.5 C268.5,272.8 271.4,276.4 274.2,280.7 C277.0,285.0 280.7,289.8 283.3,294.4 C285.9,298.9 287.4,303.4 290.0,308.0 C292.6,312.6 296.2,316.7 298.6,321.8 C301.1,326.9 302.6,332.8 304.7,338.5 C306.8,344.2 308.0,349.5 310.9,356.2 C313.8,362.9 317.8,372.5 322.0,378.5 C326.2,384.5 331.8,388.9 336.0,392.4 C340.2,395.9 343.9,398.7 347.1,399.4 C350.4,400.1 352.2,397.8 355.5,396.6 C358.8,395.4 362.1,393.5 366.6,392.4 C371.1,391.3 376.9,391.5 382.6,389.8 C388.3,388.1 395.9,384.0 401.0,382.0 C406.1,380.0 409.0,377.1 413.0,377.6 C417.0,378.1 420.4,381.2 425.0,385.0 C429.6,388.8 435.3,395.1 440.4,400.4 C445.5,405.7 451.0,413.4 455.6,417.0 C460.2,420.6 463.7,421.5 467.8,421.7 C471.9,421.9 476.5,420.4 480.0,418.0 C483.5,415.6 485.9,411.6 488.9,407.5 C491.9,403.4 494.9,396.9 497.8,393.3 C500.8,389.8 503.4,388.3 506.6,386.2 C509.9,384.1 514.3,381.4 517.3,380.8 C520.3,380.2 521.7,381.6 524.4,382.6 C527.1,383.6 530.4,387.0 533.3,387.0 C536.2,387.0 538.5,384.4 542.0,382.6 C545.5,380.8 550.1,378.0 554.6,376.4 C559.1,374.8 564.7,374.7 568.8,372.8 C572.9,370.9 575.9,367.4 579.4,364.9 C582.9,362.4 586.6,361.6 590.0,357.8 C593.4,354.0 597.4,345.4 600.0,341.8 C602.6,338.2 602.1,339.8 605.6,336.3 C609.1,332.8 615.7,326.1 620.8,321.0 C625.9,315.9 631.0,309.0 636.0,306.0 C641.0,303.0 645.9,303.9 651.0,302.9 C656.1,301.9 661.3,301.3 666.4,300.0 C671.5,298.7 676.5,295.6 681.6,295.3 C686.7,295.0 691.7,297.6 696.8,298.3 C701.9,299.1 707.0,299.8 712.0,299.8 C717.0,299.8 721.4,300.1 727.0,298.3 C732.6,296.5 742.3,290.7 745.4,289.2" stroke="#3d6e9c"/>
  <path d="M2.0,220.0 C4.5,216.7 12.0,201.5 17.0,200.0 C22.0,198.5 26.3,212.5 32.0,211.0 C37.7,209.5 44.7,191.3 51.0,191.0 C57.3,190.7 64.5,202.8 70.0,209.0 C75.5,215.2 77.9,221.7 84.0,228.0 C90.1,234.3 100.9,246.6 106.6,247.0 C112.3,247.4 115.0,234.8 118.0,230.5 C121.0,226.2 121.4,224.4 124.7,221.5 C128.0,218.6 133.8,215.8 137.9,213.2 C142.0,210.6 146.1,207.0 149.4,205.8 C152.7,204.6 154.9,207.7 157.7,205.8 C160.4,203.9 163.2,199.0 165.9,194.3 C168.7,189.6 171.4,183.3 174.2,177.8 C176.9,172.3 179.7,165.7 182.4,161.3 C185.2,156.9 188.6,153.0 190.7,151.4 C192.8,149.8 191.5,151.6 195.0,152.0 C198.5,152.4 207.3,151.6 211.5,154.0 C215.7,156.4 217.2,162.2 220.4,166.6 C223.6,171.0 228.0,175.5 230.5,180.6 C233.0,185.7 233.9,191.2 235.6,197.0 C237.3,202.8 239.1,209.6 240.7,215.2 C242.3,220.8 243.7,224.9 245.2,230.5 C246.7,236.1 248.4,243.1 249.8,248.7 C251.2,254.3 252.5,258.4 253.6,264.0 C254.7,269.6 255.5,276.6 256.6,282.2 C257.8,287.8 259.0,291.2 260.5,297.5 C262.0,303.8 263.2,313.2 265.8,320.0 C268.4,326.8 272.0,331.6 275.8,338.5 C279.6,345.4 285.1,354.1 288.6,361.7 C292.1,369.3 294.2,375.2 297.0,384.0 C299.8,392.8 302.3,405.7 305.3,414.7 C308.3,423.7 311.5,432.1 315.0,438.0 C318.5,443.9 322.3,447.9 326.5,450.0 C330.7,452.1 336.2,450.9 340.0,450.6 C343.8,450.4 346.0,452.8 349.0,448.5 C352.0,444.2 355.4,430.3 358.0,424.8 C360.6,419.3 361.7,418.2 364.3,415.6 C366.9,413.1 369.9,412.0 373.5,409.5 C377.1,407.0 381.0,403.9 385.6,400.4 C390.2,396.9 396.6,392.1 400.9,388.3 C405.2,384.5 408.2,377.7 411.5,377.6 C414.8,377.6 417.4,383.7 420.6,388.0 C423.9,392.3 427.2,397.9 431.0,403.5 C434.8,409.1 439.4,415.6 443.5,421.7 C447.6,427.8 451.6,437.2 455.6,440.0 C459.7,442.8 463.7,439.8 467.8,438.5 C471.9,437.2 476.5,436.9 480.0,432.3 C483.5,427.7 485.9,417.8 488.9,411.0 C491.9,404.2 494.9,398.0 497.8,391.5 C500.8,385.0 503.7,376.8 506.6,372.0 C509.6,367.2 512.8,363.9 515.5,363.0 C518.2,362.1 519.9,363.9 522.6,366.6 C525.3,369.3 528.5,377.5 531.5,379.0 C534.5,380.5 537.1,377.6 540.4,375.5 C543.6,373.4 546.9,368.8 551.0,366.6 C555.1,364.4 560.5,365.1 565.2,362.2 C569.9,359.2 576.0,351.9 579.4,348.9 C582.8,345.9 583.8,345.6 585.6,344.0 C587.4,342.4 588.5,343.3 590.4,339.0 C592.3,334.7 594.5,325.0 597.0,318.0 C599.5,311.0 601.6,302.8 605.6,297.0 C609.6,291.2 616.2,286.8 620.8,283.0 C625.4,279.2 628.0,274.5 633.0,274.0 C638.0,273.5 645.4,278.2 651.0,280.0 C656.6,281.8 661.3,284.6 666.4,284.6 C671.5,284.6 676.5,279.5 681.6,280.0 C686.7,280.5 691.7,284.4 696.8,287.7 C701.9,291.0 707.5,297.9 712.0,300.0 C716.5,302.1 720.0,301.6 724.0,300.0 C728.0,298.4 732.7,293.8 736.3,290.7 C739.9,287.6 743.9,283.1 745.4,281.6" stroke="#00e600"/>
 </g>
 <!-- red dotted last price -->
 <line x1="2" y1="231.5" x2="1125" y2="231.5" stroke="#d9534f" stroke-width="1" stroke-dasharray="2 2"/>
 <!-- circles -->
 <g fill="#5af24b" fill-opacity="0.4" stroke="#20ecd2" stroke-width="3">
  <ellipse cx="318" cy="560.4" rx="40.7" ry="36.8"/>
  <ellipse cx="446.5" cy="503.3" rx="40.7" ry="36.8"/>
  <ellipse cx="532.6" cy="428" rx="40.7" ry="36.8"/>
  <ellipse cx="691" cy="344.2" rx="40.3" ry="36.6"/>
  <ellipse cx="744.2" cy="238.2" rx="28.8" ry="36.6" stroke="#0d2a9e"/>
 </g>
 <line x1="603.7" y1="185" x2="796.3" y2="312.5" stroke="#5a8ad8" stroke-width="3"/>
 <line x1="2" y1="263.5" x2="1125" y2="263.5" stroke="#8800ee" stroke-width="3"/>
 <path d="M302.5,580.3 L310.4,579.6 L318.2,578.8 L326.1,578.0 L334.0,577.0 L341.8,576.0 L349.6,574.8 L357.5,573.6 L365.3,572.3 L373.1,570.9 L380.8,569.3 L388.6,567.8 L396.3,566.1 L404.0,564.3 L411.7,562.4 L419.4,560.4 L427.0,558.4 L434.6,556.2 L442.2,554.0 L449.7,551.6 L457.2,549.2 L464.6,546.7 L472.1,544.0 L479.4,541.3 L486.8,538.5 L494.1,535.6 L501.3,532.6 L508.5,529.4 L515.6,526.2 L522.7,522.9 L529.8,519.5 L536.8,516.0 L543.7,512.4 L550.6,508.7 L557.4,504.9 L564.1,501.0 L570.8,497.0 L577.4,492.9 L584.0,488.6 L590.5,484.3 L596.9,479.9 L603.2,475.4 L609.5,470.8 L615.7,466.1 L621.8,461.2 L627.8,456.3 L633.7,451.3 L639.6,446.1 L645.4,440.9 L651.1,435.6 L656.7,430.1 L662.3,424.6 L667.7,419.0 L673.1,413.3 L678.4,407.5 L683.6,401.7 L688.8,395.8 L693.8,389.8 L698.8,383.7 L703.7,377.5 L708.5,371.3 L713.3,365.1 L717.9,358.7 L722.5,352.4 L727.0,345.9 L731.4,339.5 L735.7,332.9 L740.0,326.3 L744.1,319.7 L748.0,312.9 L751.9,306.2 L755.6,299.3 L759.2,292.4 L762.6,285.5 L765.9,278.5 L769.4,271.6 L773.2,264.8 L777.4,258.4 L782.3,252.2 L788.0,246.5" stroke="#8a00ee" stroke-width="4" fill="none"/>
 <!-- annotations -->
 <rect x="727.5" y="155.5" width="245" height="27" fill="#dfe8f2" stroke="#7f8a96" stroke-width="1"/>
 <text x="733" y="175.5" font-family="Liberation Sans" font-weight="bold" font-size="20" fill="#0a14cc" textLength="233" lengthAdjust="spacingAndGlyphs">1.32 Hedefine Vardık</text>
 <rect x="793.5" y="216.5" width="273" height="27" fill="#dfe8f2" stroke="#7f8a96" stroke-width="1"/>
 <text x="799" y="237" font-family="Liberation Sans" font-weight="bold" font-size="20" fill="#4d86dc" textLength="263" lengthAdjust="spacingAndGlyphs">1.3139 Hedefine Vardık</text>
 <line x1="793" y1="231.5" x2="1067" y2="231.5" stroke="#d9534f" stroke-width="1" stroke-dasharray="2 2"/>
 <!-- axes -->
 <line x1="1125.5" y1="40" x2="1125.5" y2="728" stroke="#555" stroke-width="1.5"/>
 <line x1="2" y1="727.3" x2="1126" y2="727.3" stroke="#555" stroke-width="1.5"/>
 <path d="M1125 62.4H1130M1125 92.2H1130M1125 121.9H1130M1125 151.7H1130M1125 181.4H1130M1125 211.2H1130M1125 240.9H1130M1125 270.7H1130M1125 300.5H1130M1125 330.2H1130M1125 360.0H1130M1125 389.7H1130M1125 419.5H1130M1125 449.2H1130M1125 479.0H1130M1125 508.8H1130M1125 538.5H1130M1125 568.3H1130M1125 598.0H1130M1125 627.8H1130M1125 657.5H1130M1125 687.3H1130M1125 717.1H1130" stroke="#555" stroke-width="1"/>
 <path d="M51.5 727V731M144.6 727V731M236.4 727V731M329.6 727V731M422.4 727V731M516.5 727V731M609.4 727V731M702.4 727V731M797.3 727V731M888.4 727V731M982.5 727V731M1076.6 727V731" stroke="#555" stroke-width="1"/>
 <g font-family="Liberation Sans" font-size="10.7" fill="#555"><text x="1133" y="67.0">1.38000</text><text x="1133" y="96.8">1.37000</text><text x="1133" y="126.5">1.36000</text><text x="1133" y="156.3">1.35000</text><text x="1133" y="186.0">1.34000</text><text x="1133" y="215.8">1.33000</text><text x="1133" y="245.5">1.32000</text><text x="1133" y="275.3">1.31000</text><text x="1133" y="305.1">1.30000</text><text x="1133" y="334.8">1.29000</text><text x="1133" y="364.6">1.28000</text><text x="1133" y="394.3">1.27000</text><text x="1133" y="424.1">1.26000</text><text x="1133" y="453.8">1.25000</text><text x="1133" y="483.6">1.24000</text><text x="1133" y="513.4">1.23000</text><text x="1133" y="543.1">1.22000</text><text x="1133" y="572.9">1.21000</text><text x="1133" y="602.6">1.20000</text><text x="1133" y="632.4">1.19000</text><text x="1133" y="662.1">1.18000</text><text x="1133" y="691.9">1.17000</text><text x="1133" y="721.7">1.16000</text></g>
 <g font-family="Liberation Sans" font-size="11" fill="#555"><text x="51.5" y="745" text-anchor="middle" font-weight="bold">2017</text><text x="144.6" y="745" text-anchor="middle">Apr</text><text x="236.4" y="745" text-anchor="middle">Jul</text><text x="329.6" y="745" text-anchor="middle">Oct</text><text x="422.4" y="745" text-anchor="middle" font-weight="bold">2018</text><text x="516.5" y="745" text-anchor="middle">Apr</text><text x="609.4" y="745" text-anchor="middle">Jul</text><text x="702.4" y="745" text-anchor="middle">Oct</text><text x="797.3" y="745" text-anchor="middle" font-weight="bold">2019</text><text x="888.4" y="745" text-anchor="middle">Apr</text><text x="982.5" y="745" text-anchor="middle">Jul</text><text x="1076.6" y="745" text-anchor="middle">Oct</text></g>
 <rect x="1125" y="223" width="50" height="16.5" fill="#e84c4c"/>
 <text x="1132" y="235.3" font-family="Liberation Sans" font-weight="bold" font-size="11" fill="#fff">1.32314</text>
 <rect x="1125" y="255.3" width="50" height="16.5" fill="#8a00f0"/>
 <text x="1132" y="267.6" font-family="Liberation Sans" font-weight="bold" font-size="11" fill="#fff">1.31268</text>


 <!-- bottom bar -->
 <g font-family="Liberation Sans" font-size="13" fill="#3a3d46">
  <text x="18.7" y="775" textLength="14.5" lengthAdjust="spacingAndGlyphs">1D</text>
  <text x="48.5" y="775" textLength="14.8" lengthAdjust="spacingAndGlyphs">5D</text>
  <text x="79" y="775" textLength="16.2" lengthAdjust="spacingAndGlyphs">1M</text>
  <text x="109.7" y="775" textLength="16.5" lengthAdjust="spacingAndGlyphs">3M</text>
  <text x="140.8" y="775" textLength="17" lengthAdjust="spacingAndGlyphs">6M</text>
  <text x="171.8" y="775" textLength="23.8" lengthAdjust="spacingAndGlyphs">YTD</text>
  <text x="211.3" y="775" textLength="14.4" lengthAdjust="spacingAndGlyphs">1Y</text>
  <text x="240.2" y="775" textLength="14.4" lengthAdjust="spacingAndGlyphs">5Y</text>
  <text x="269" y="775" textLength="15.9" lengthAdjust="spacingAndGlyphs">All</text>
  <text x="318.9" y="775" textLength="48.5" lengthAdjust="spacingAndGlyphs">Go to...</text>
  <text x="910" y="775.5" textLength="93" lengthAdjust="spacingAndGlyphs">08:06:55 (UTC)</text>
  <text x="1038" y="775.5" textLength="12.6" lengthAdjust="spacingAndGlyphs">%</text>
  <text x="1065.7" y="775.5" textLength="18.2" lengthAdjust="spacingAndGlyphs">log</text>
  <text x="1098.8" y="775.5" textLength="26.7" lengthAdjust="spacingAndGlyphs">auto</text>
 </g>
 <rect x="302.2" y="757.7" width="1" height="23" fill="#e6e8eb"/>
 <rect x="1020.3" y="757.7" width="1" height="23" fill="#e6e8eb"/>
 <path d="M1155.06,768.81 L1157.32,768.96 L1157.32,771.04 L1155.06,771.19 L1154.47,772.60 L1155.97,774.30 L1154.50,775.77 L1152.80,774.27 L1151.39,774.86 L1151.24,777.12 L1149.16,777.12 L1149.01,774.86 L1147.60,774.27 L1145.90,775.77 L1144.43,774.30 L1145.93,772.60 L1145.34,771.19 L1143.08,771.04 L1143.08,768.96 L1145.34,768.81 L1145.93,767.40 L1144.43,765.70 L1145.90,764.23 L1147.60,765.73 L1149.01,765.14 L1149.16,762.88 L1151.24,762.88 L1151.39,765.14 L1152.80,765.73 L1154.50,764.23 L1155.97,765.70 L1154.47,767.40Z" fill="#1a1d24"/><circle cx="1150.2" cy="770" r="2.7" fill="#fff"/>
 <!-- toolbar -->
 <g fill="#eceef1">
  <rect x="102" y="0" width="1" height="36"/><rect x="140.5" y="0" width="1" height="36"/><rect x="179" y="0" width="1" height="36"/>
  <rect x="281.5" y="0" width="1" height="36"/><rect x="389" y="0" width="1" height="36"/><rect x="498.5" y="0" width="1" height="36"/>
  <rect x="575.5" y="0" width="1" height="36"/><rect x="663.5" y="0" width="1" height="36"/><rect x="727" y="0" width="1" height="36"/>
  <rect x="780.5" y="0" width="1" height="36"/><rect x="819.5" y="0" width="1" height="36"/><rect x="940.5" y="0" width="1" height="36"/>
  <rect x="979" y="0" width="1" height="36"/><rect x="1018" y="0" width="1" height="36"/>
 </g>
 <g font-family="Liberation Sans" fill="#2f3241" stroke="#2f3241" stroke-width="0.25">
  <text x="14.7" y="22" font-size="13.3" font-weight="bold" textLength="50.6" lengthAdjust="spacingAndGlyphs">USDCAD</text>
  <text x="118" y="22" font-size="13.5" textLength="7.7" lengthAdjust="spacingAndGlyphs">D</text>
  <text x="215.3" y="22" font-size="14" textLength="54.7" lengthAdjust="spacingAndGlyphs">Compare</text>
  <text x="317.4" y="22" font-size="14" textLength="60.8" lengthAdjust="spacingAndGlyphs">Indicators</text>
  <text x="425" y="22" font-size="14" textLength="63" lengthAdjust="spacingAndGlyphs">Templates</text>
  <text x="534.9" y="22" font-size="14" textLength="30.2" lengthAdjust="spacingAndGlyphs">Alert</text>
  <text x="612" y="22" font-size="14" textLength="40.2" lengthAdjust="spacingAndGlyphs">Replay</text>
  <text x="855.7" y="22" font-size="14" textLength="57.8" lengthAdjust="spacingAndGlyphs">Unnamed</text>
 </g>
 <g fill="none" stroke="#2f3241" stroke-width="1.3">
  <!-- candles icon -->
  <rect x="154.5" y="10.5" width="3.8" height="13"/><line x1="156.4" y1="7.3" x2="156.4" y2="10.5"/><line x1="156.4" y1="23.5" x2="156.4" y2="26.4"/>
  <rect x="162.7" y="13" width="3.8" height="7.5"/><line x1="164.6" y1="9.9" x2="164.6" y2="13"/><line x1="164.6" y1="20.5" x2="164.6" y2="23.3"/>
  <!-- compare -->
  <circle cx="198.3" cy="17.3" r="9"/><line x1="193.8" y1="17.3" x2="202.8" y2="17.3"/><line x1="198.3" y1="12.8" x2="198.3" y2="21.8"/>
  <!-- indicators -->
  <path d="M292.3,20.5 C295,17 296.5,14.8 298.5,15.3 C301,16 301.5,19.5 304,19.5 C306.5,19.5 308,15.5 311,15"/>
  <!-- templates -->
  <path d="M400,16 C403,11 405,10 408,13 C411,16 413,12 419,8.5"/>
  <path d="M400,20 C403,15 405,14 408,17 C411,20 413,16 419,12.5"/>
  <path d="M401,24.7V23.5 M404.5,24.7V20.5 M408,24.7V22 M411.5,24.7V21 M415,24.7V20 M418.5,24.7V17.5" stroke-width="1.2"/>
  <!-- alert -->
  <circle cx="517.5" cy="17.8" r="7.3"/><path d="M517,13.5V18.2H520"/><path d="M509.5,12 C509,9.5 511,7.8 513.3,8.3 M525.5,12 C526,9.5 524,7.8 521.7,8.3"/>
  <path d="M519.5,23.5H528M523.8,19.2V27.8" stroke-width="1.4"/>
  <!-- replay -->
  <path d="M595.5,12.3 L588.5,17.3 L595.5,22.3Z M602.5,12.3 L595.8,17.3 L602.5,22.3Z" stroke-width="1.2"/>
  <!-- undo -->
  <path d="M686.8,22 C686.8,17 684,15.8 680,15.8 H674.5 M678,12.5 L674.3,15.8 L678,19" stroke-width="1.3"/>
  <path d="M702.5,22 C702.5,17 705,15.8 709,15.8 H714.8 M711.2,12.5 L714.8,15.8 L711.2,19" stroke="#c9ccd2" stroke-width="1.3"/>
  <!-- square -->
  <rect x="791.7" y="8.9" width="17.4" height="15" rx="2" stroke-width="1.4"/>
  <!-- cloud -->
  <path d="M830.5,24.3 H847 C849.5,24.3 851.2,22.3 851.2,20 C851.2,17.5 849.2,15.8 847,16 C846.5,12 843.5,9.3 839.5,9.3 C835.5,9.3 832.8,12 832.3,15.5 C829,15.8 826.8,17.8 826.8,20.2 C826.8,22.5 828.5,24.3 830.5,24.3Z" stroke-width="1.3"/>
  <!-- chevron -->
  <path d="M926.2,14.8 L930.2,18.8 L934.2,14.8" stroke-width="1.3"/>
  <!-- fullscreen -->
  <path d="M991,14 V9.5 H995.5 M991,9.5 L996,14.5 M1007,14 V9.5 H1002.5 M1007,9.5 L1002,14.5 M991,20 V24.5 H995.5 M991,24.5 L996,19.5 M1007,20 V24.5 H1002.5 M1007,24.5 L1002,19.5" stroke-width="1.3"/>
  <!-- camera -->
  <path d="M1028,12.2 H1032.5 L1034.5,9 H1040.5 L1042.5,12.2 H1047.2 V24.3 H1028Z" stroke-width="1.4" stroke-linejoin="round"/>
  <circle cx="1037.6" cy="17.8" r="4" stroke-width="1.4"/>
 </g>
 <!-- gear -->
 <g transform="translate(960,17)" fill="none" stroke="#2f3241" stroke-width="1.3">
  <path d="M-1.8,-9.5 H1.8 L2.4,-7 L4.4,-6.1 L6.6,-7.6 L9.1,-5.1 L7.6,-2.9 L8.5,-0.9 L9.5,-0.3 V2.4 L7.6,3 L6.7,5 L8.2,7.2 L5.7,9.7 L3.5,8.2 L1.5,9.1 L1.2,9.6 H-1.8 L-2.4,7.3 L-4.4,6.4 L-6.6,7.9 L-9.1,5.4 L-7.6,3.2 L-8.5,1.2 L-9.5,0.6 V-2.4 L-7.2,-3 L-6.3,-5 L-7.8,-7.2 L-5.3,-9.7 L-3.1,-8.2 L-2.4,-7.8Z" stroke-linejoin="round"/>
  <circle cx="0" cy="0" r="3.4"/>
 </g>
 <text x="1073" y="22.3" font-family="Liberation Sans" font-size="14.5" font-weight="bold" fill="#fff" textLength="48" lengthAdjust="spacingAndGlyphs">Publish</text>
 <rect x="1137" y="0" width="1" height="36" fill="#6cb8f6"/>
 <circle cx="1156.4" cy="17.3" r="10" fill="none" stroke="#fff" stroke-width="1.4"/>
 <path d="M1153.8,12.8 L1160.5,17.3 L1153.8,21.8Z" fill="#fff"/>
</svg>
<div class="pubwrap"></div>
</body></html>
